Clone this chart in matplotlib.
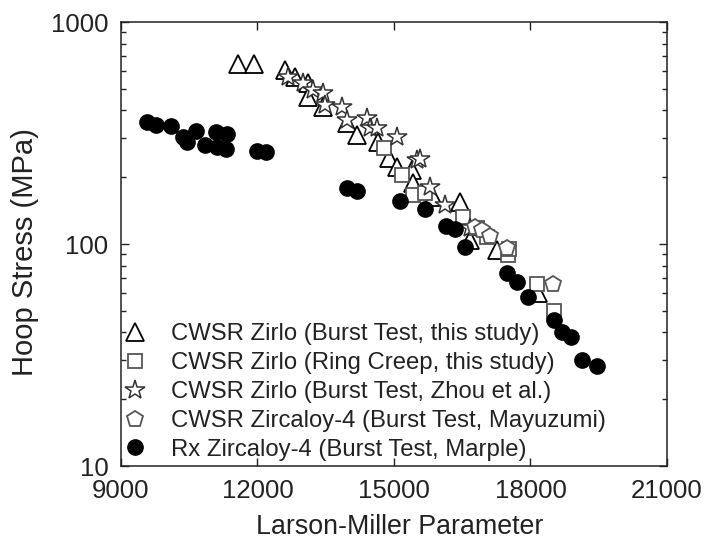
import matplotlib
matplotlib.use("Agg")
import matplotlib.pyplot as plt
from matplotlib.ticker import FixedLocator, NullLocator, LogLocator, NullFormatter

plt.rcParams['font.family'] = ['Liberation Sans', 'DejaVu Sans']

# CWSR Zirlo (Burst Test, this study)
tri_x = [11580, 11920, 12600, 12820, 13120, 13120, 13450, 13960, 14180, 14650,
         14880, 15060, 15390, 15420, 15860, 16450, 16670, 17260, 18170]
tri_y = [648, 648, 608, 567, 530, 461, 415, 350, 310, 289,
         243, 223, 216, 188, 163, 155, 104, 94, 60]

# CWSR Zirlo (Ring Creep, this study)
sq_x = [14770, 15170, 15410, 15680, 16520, 16820, 17040, 17510, 17520, 18150, 18520]
sq_y = [270, 205, 166, 169, 133, 118, 108, 89, 95, 66, 50]

# CWSR Zirlo (Burst Test, Zhou et al.)
star_x = [12680, 13010, 13230, 13450, 13480, 13850, 13960, 14400, 14470, 14620,
          15060, 15500, 15570, 15790, 16120, 16670]
star_y = [567, 530, 494, 477, 423, 415, 362, 368, 332, 332,
          304, 239, 241, 181, 150, 118]

# CWSR Zircaloy-4 (Burst Test, Mayuzumi)
pent_x = [16780, 16930, 17110, 17480, 18500]
pent_y = [119, 116, 109, 96, 66]

# Rx Zircaloy-4 (Burst Test, Marple)
circ_x = [9565, 9770, 10090, 10360, 10460, 10650, 10850, 11090, 11120, 11320,
          11310, 12000, 12190, 13960, 14190, 15130, 15680, 16140, 16330, 16560,
          17480, 17700, 17950, 18520, 18700, 18880, 19130, 19460]
circ_y = [356, 344, 340, 303, 289, 324, 278, 321, 273, 313,
          267, 263, 259, 178, 173, 157, 144, 121, 117, 97,
          74, 67.6, 57.5, 45.5, 40, 38, 30, 28.3]

labels = ["CWSR Zirlo (Burst Test, this study)",
          "CWSR Zirlo (Ring Creep, this study)",
          "CWSR Zirlo (Burst Test, Zhou et al.)",
          "CWSR Zircaloy-4 (Burst Test, Mayuzumi)",
          "Rx Zircaloy-4 (Burst Test, Marple)"]

x_ticks = [9000, 12000, 15000, 18000, 21000]
y_ticks = [10, 100, 1000]

fig = plt.figure(figsize=(7.05, 5.42), dpi=100)
ax = fig.add_axes([0.1716, 0.1402, 0.7745, 0.8192])

ax.plot(tri_x, tri_y, linestyle='none', marker='^', markersize=12.5,
        markerfacecolor='white', markeredgecolor='black', markeredgewidth=1.3, label=labels[0])
ax.plot(sq_x, sq_y, linestyle='none', marker='s', markersize=10,
        markerfacecolor='white', markeredgecolor='#555555', markeredgewidth=1.3, label=labels[1])
ax.plot(star_x, star_y, linestyle='none', marker='*', markersize=14.5,
        markerfacecolor='white', markeredgecolor='#333333', markeredgewidth=1.1, label=labels[2])
ax.plot(pent_x, pent_y, linestyle='none', marker='p', markersize=12,
        markerfacecolor='white', markeredgecolor='#555555', markeredgewidth=1.3, label=labels[3])
ax.plot(circ_x, circ_y, linestyle='none', marker='o', markersize=11,
        markerfacecolor='black', markeredgecolor='black', label=labels[4])

ax.set_yscale('log')
ax.set_xlim(9000, 21000)
ax.set_ylim(10, 1000)
ax.xaxis.set_major_locator(FixedLocator(x_ticks))
ax.xaxis.set_minor_locator(NullLocator())
ax.yaxis.set_major_locator(FixedLocator(y_ticks))
ax.yaxis.set_minor_locator(LogLocator(base=10, subs=range(2, 10)))
ax.yaxis.set_minor_formatter(NullFormatter())
ax.set_xticklabels([str(v) for v in x_ticks])
ax.set_yticklabels([str(v) for v in y_ticks])

for s in ax.spines.values():
    s.set_linewidth(1.1)
    s.set_color('#222222')
ax.tick_params(which='both', direction='in', top=True, right=True, colors='#222222',
               labelsize=18.5, labelcolor='#222222')
ax.tick_params(which='major', length=6, width=1, pad=9)
ax.tick_params(which='minor', length=3.6, width=1)

ax.set_xlabel('Larson-Miller Parameter', fontsize=19.3, color='#222222')
ax.set_ylabel('Hoop Stress (MPa)', fontsize=21, color='#222222')
ax.xaxis.set_label_coords(0.511, -0.108)
ax.yaxis.set_label_coords(-0.150, 0.482)

leg = ax.legend(loc='lower left', bbox_to_anchor=(0.004, 0.012), frameon=False,
                fontsize=17.2, borderpad=0, borderaxespad=0, handlelength=1.0,
                handletextpad=1.0, labelspacing=0.285, numpoints=1)
for t in leg.get_texts():
    t.set_color('#222222')

fig.savefig('out.png', dpi=100)
